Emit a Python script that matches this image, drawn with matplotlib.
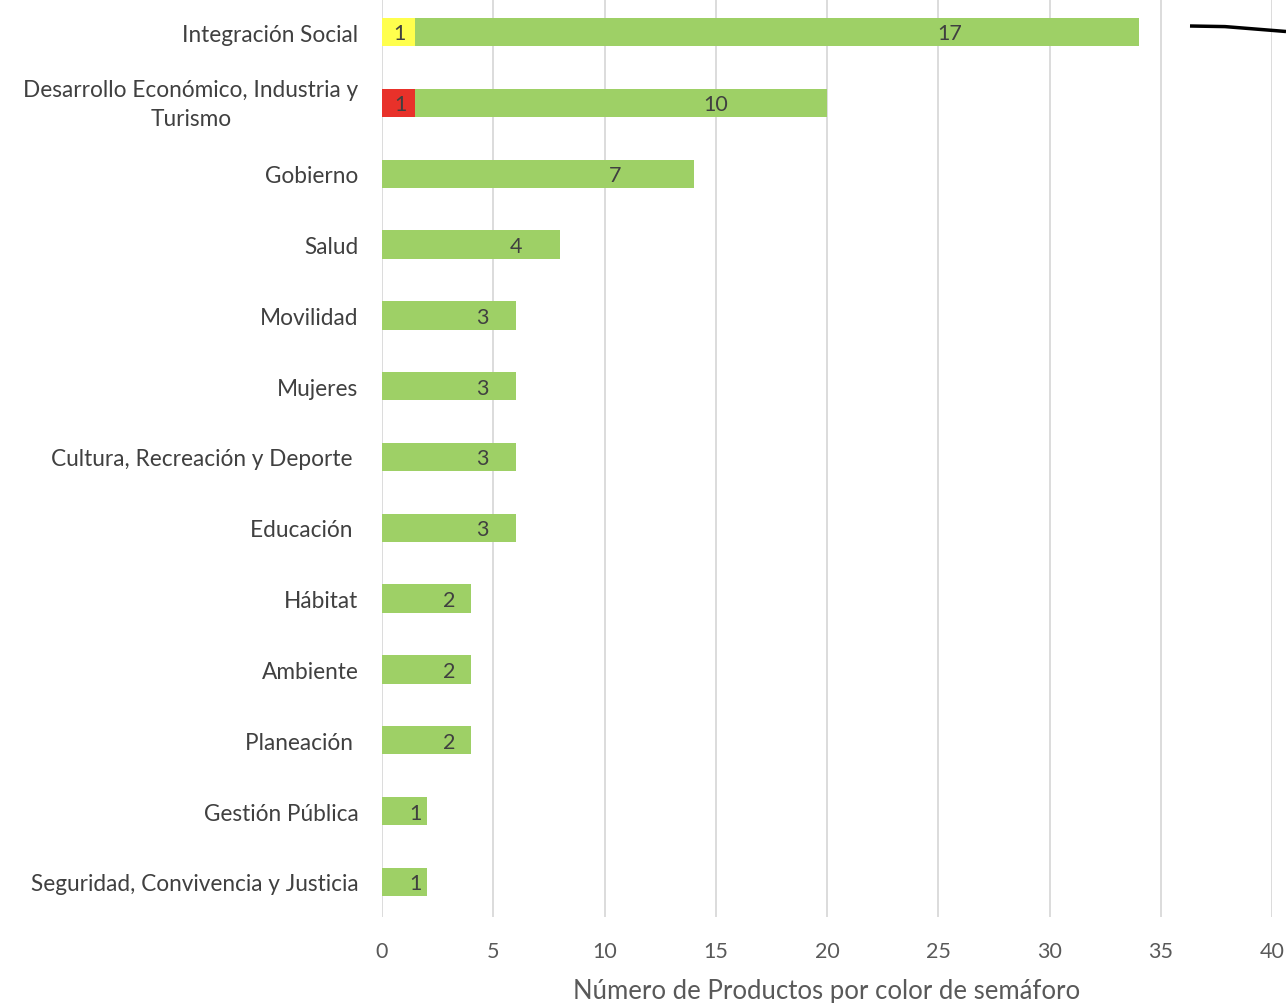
import matplotlib
matplotlib.use("Agg")
import matplotlib.pyplot as plt
from matplotlib.lines import Line2D
from matplotlib.transforms import ScaledTranslation

plt.rcParams['font.family'] = ['Lato', 'DejaVu Sans']

categories = [
    "Integración Social",
    "Desarrollo Económico, Industria y\nTurismo",
    "Gobierno",
    "Salud",
    "Movilidad",
    "Mujeres",
    "Cultura, Recreación y Deporte ",
    "Educación ",
    "Hábitat",
    "Ambiente",
    "Planeación ",
    "Gestión Pública",
    "Seguridad, Convivencia y Justicia",
]
# label values shown on the bars
green_labels = [17, 10, 7, 4, 3, 3, 3, 3, 2, 2, 2, 1, 1]
yellow_labels = [1, 0, 0, 0, 0, 0, 0, 0, 0, 0, 0, 0, 0]
red_labels = [0, 1, 0, 0, 0, 0, 0, 0, 0, 0, 0, 0, 0]
# drawn extents on the axis
yellow_len = [1.5, 0, 0, 0, 0, 0, 0, 0, 0, 0, 0, 0, 0]
red_len = [0, 1.5, 0, 0, 0, 0, 0, 0, 0, 0, 0, 0, 0]
green_end = [34, 20, 14, 8, 6, 6, 6, 6, 4, 4, 4, 2, 2]
xticks = [0, 5, 10, 15, 20, 25, 30, 35, 40]
xlabel = "Número de Productos por color de semáforo"

GREEN = "#9ED066"
YELLOW = "#FFFF4D"
RED = "#E8312A"
TXT = "#404040"
GRID = "#D9D9D9"

W, H = 1286, 1004
fig = plt.figure(figsize=(W / 100, H / 100), dpi=100)
left = 382 / W
right = 1272 / W
top_px = -2.4
bot_px = 918.4
ax = fig.add_axes([left, 1 - bot_px / H, right - left, (bot_px - top_px) / H])

ys = list(range(len(categories)))
bh = 0.40
LBL = 15.5
for i in ys:
    start = yellow_len[i] + red_len[i]
    yl = i + 0.02
    if yellow_len[i] > 0:
        ax.barh(i, yellow_len[i], height=bh, color=YELLOW, edgecolor="none", zorder=3)
        ax.text(yellow_len[i] / 2 + 0.03, yl, str(yellow_labels[i]), ha="center", va="center",
                fontsize=LBL, color=TXT, zorder=4)
    if red_len[i] > 0:
        ax.barh(i, red_len[i], left=yellow_len[i], height=bh, color=RED, edgecolor="none", zorder=3)
        ax.text(yellow_len[i] + red_len[i] / 2 + 0.1, yl, str(red_labels[i]), ha="center", va="center",
                fontsize=LBL, color=TXT, zorder=4)
    ax.barh(i, green_end[i] - start, left=start, height=bh, color=GREEN, edgecolor="none", zorder=3)
    ax.text(green_end[i] * 0.75, yl, str(green_labels[i]), ha="center", va="center",
            fontsize=LBL, color=TXT, zorder=4)

ax.set_ylim(len(categories) - 0.5, -0.5)
ax.set_xlim(0, 40)
ax.set_xticks(xticks)
ax.set_xticklabels([str(t) for t in xticks])
ax.set_yticks(ys)
# multi-line labels are drawn separately for precise vertical placement
ax.set_yticklabels([c if "\n" not in c else "" for c in categories])
for i, c in enumerate(categories):
    if "\n" in c:
        tr = ax.get_yaxis_transform() + ScaledTranslation(-17 / 72, -0.01, fig.dpi_scale_trans)
        ax.text(0, i, c, transform=tr, ha="right", va="center", multialignment="center",
                linespacing=1.5, fontsize=16.3, color=TXT)
ax.tick_params(axis="both", length=0)
ax.tick_params(axis="x", pad=17, labelsize=15.5, labelcolor="#595959")
ax.tick_params(axis="y", pad=17, labelcolor=TXT, labelsize=16.3)
for s in ax.spines.values():
    s.set_visible(False)
ax.grid(axis="x", color=GRID, linewidth=1.3, zorder=0)
ax.set_axisbelow(True)
ax.set_xlabel(xlabel, fontsize=18.5, color="#595959", labelpad=12)

# hand-drawn stroke at top right
fig.add_artist(Line2D([1190 / W, 1225 / W, 1286 / W],
                      [1 - 27 / H, 1 - 27.6 / H, 1 - 32.5 / H],
                      color="black", linewidth=2.5, solid_capstyle="butt"))

fig.savefig("out.png", dpi=100, facecolor="white")
